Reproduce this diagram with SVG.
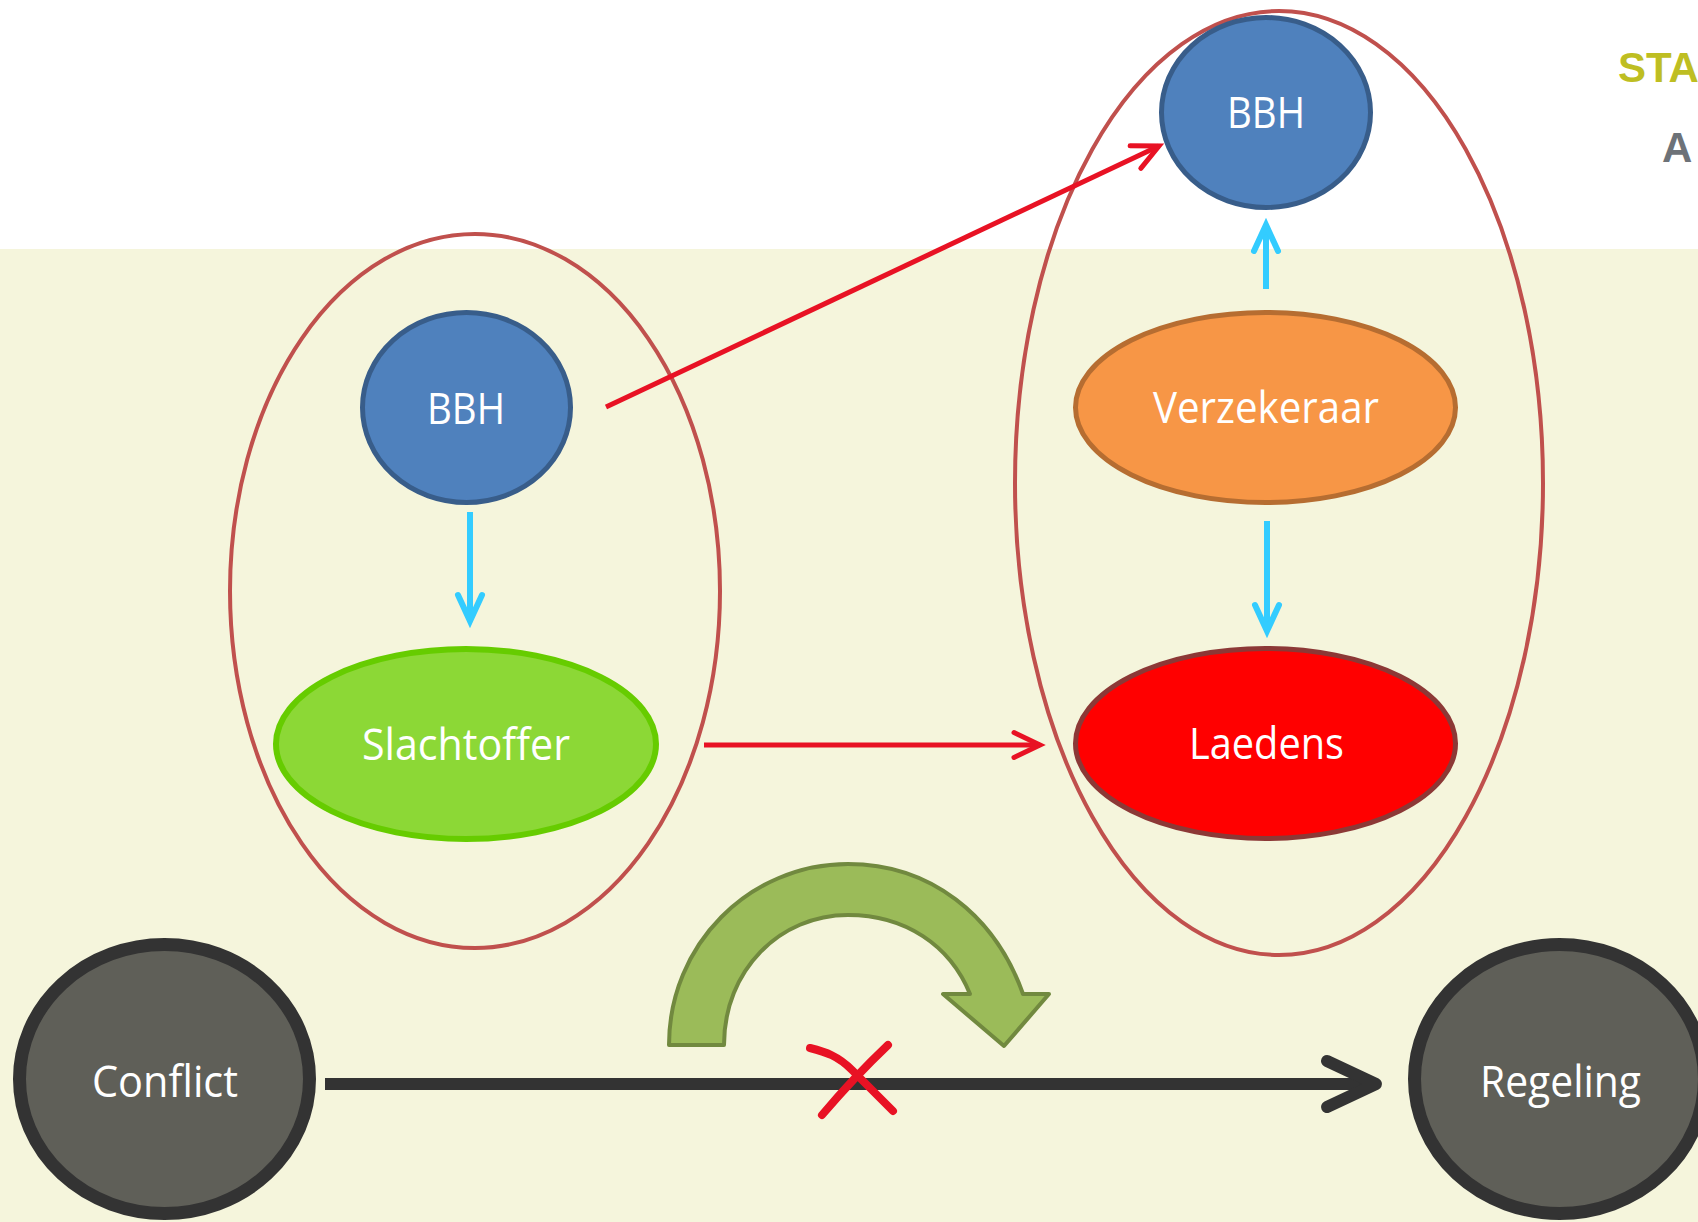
<svg xmlns="http://www.w3.org/2000/svg" width="1698" height="1222" viewBox="0 0 1698 1222">
<style>
.lbl{font-family:"Open Sans","Noto Sans","Liberation Sans",sans-serif;fill:#FFFFFF;font-size:43px;text-anchor:middle}
.group{fill:none;stroke:#C0504D;stroke-width:4}
.bbh{fill:#4F81BD;stroke:#385D8A;stroke-width:5}
.term{fill:#5F5F58;stroke:#333333;stroke-width:13}
.red{fill:none;stroke:#E81224;stroke-width:5}
.cyan{fill:none;stroke:#33CCFF;stroke-width:6}
</style>
<defs>
<marker id="mRed" markerUnits="userSpaceOnUse" orient="auto" refX="0" refY="0" markerWidth="60" markerHeight="60" overflow="visible">
<path d="M-26,-12.5 L0,0 L-26,12.5" fill="none" stroke="#E81224" stroke-width="5" stroke-linecap="round"/>
</marker>
<marker id="mCyan" markerUnits="userSpaceOnUse" orient="auto" refX="0" refY="0" markerWidth="60" markerHeight="60" overflow="visible">
<path d="M-26,-12 L0,0 L-26,12" fill="none" stroke="#33CCFF" stroke-width="6" stroke-linecap="round"/>
</marker>
<marker id="mBlack" markerUnits="userSpaceOnUse" orient="auto" refX="0" refY="0" markerWidth="80" markerHeight="80" overflow="visible">
<path d="M-49,-23 L0,0 L-49,23" fill="none" stroke="#333333" stroke-width="12" stroke-linecap="round" stroke-linejoin="round"/>
</marker>
</defs>
<rect x="0" y="0" width="1698" height="1222" fill="#FFFFFF"/>
<rect x="0" y="249" width="1698" height="973" fill="#F5F5DC"/>
<text x="1618" y="82" font-family="'Liberation Sans',Arial,sans-serif" font-weight="bold" font-size="42" fill="#BEBE22">STA</text>
<text x="1662" y="162" font-family="'Liberation Sans',Arial,sans-serif" font-weight="bold" font-size="42" fill="#6D7278">A</text>

<g id="group-left"><ellipse class="group" cx="475" cy="591" rx="245" ry="357"/></g>
<g id="group-right"><ellipse class="group" cx="1279" cy="483" rx="264" ry="472"/></g>

<g id="bbh-left">
<ellipse class="bbh" cx="466.5" cy="407.5" rx="104" ry="95"/>
<text class="lbl" x="466" y="424" textLength="78" lengthAdjust="spacingAndGlyphs">BBH</text>
</g>
<g id="slachtoffer">
<ellipse cx="466" cy="744" rx="190" ry="95" fill="#8CD836" stroke="#66CC00" stroke-width="6"/>
<text class="lbl" x="466" y="760" textLength="208" lengthAdjust="spacingAndGlyphs">Slachtoffer</text>
</g>
<g id="bbh-right">
<ellipse class="bbh" cx="1266" cy="112.5" rx="104.5" ry="95"/>
<text class="lbl" x="1266" y="128" textLength="78" lengthAdjust="spacingAndGlyphs">BBH</text>
</g>
<g id="verzekeraar">
<ellipse cx="1265.5" cy="407.5" rx="190" ry="95" fill="#F79646" stroke="#B66D31" stroke-width="5"/>
<text class="lbl" x="1266" y="423" textLength="226" lengthAdjust="spacingAndGlyphs">Verzekeraar</text>
</g>
<g id="laedens">
<ellipse cx="1265.5" cy="743.5" rx="190" ry="95" fill="#FF0000" stroke="#8C3836" stroke-width="5"/>
<text class="lbl" x="1266.5" y="759" textLength="155" lengthAdjust="spacingAndGlyphs">Laedens</text>
</g>
<g id="conflict">
<ellipse class="term" cx="164.5" cy="1079" rx="145" ry="134.5"/>
<text class="lbl" x="165" y="1097" textLength="146" lengthAdjust="spacingAndGlyphs">Conflict</text>
</g>
<g id="regeling">
<ellipse class="term" cx="1559.5" cy="1079" rx="145" ry="134.5"/>
<text class="lbl" x="1560.5" y="1097" textLength="161" lengthAdjust="spacingAndGlyphs">Regeling</text>
</g>

<g id="connectors">
<line class="red" x1="606" y1="407" x2="1159" y2="146" marker-end="url(#mRed)"/>
<line class="red" x1="704" y1="745" x2="1040" y2="745" marker-end="url(#mRed)"/>
<line class="cyan" x1="470" y1="512" x2="470" y2="621" marker-end="url(#mCyan)"/>
<line class="cyan" x1="1266" y1="289" x2="1266" y2="225" marker-end="url(#mCyan)"/>
<line class="cyan" x1="1267" y1="521" x2="1267" y2="631" marker-end="url(#mCyan)"/>
<line x1="325" y1="1084" x2="1376" y2="1084" stroke="#333333" stroke-width="12" marker-end="url(#mBlack)"/>
</g>

<g id="curved-arrow">
<path d="M669,1045 C669,945 749,864 848,864 C930,864 995,915 1023,994 L1049,994 L1004,1046 L943,994 L970,994 C950,945 905,915 848,915 C780,915 724,970 724,1045 Z" fill="#9BBB59" stroke="#71893F" stroke-width="4" stroke-linejoin="round"/>
</g>
<g id="cross" fill="none" stroke="#E81224" stroke-width="8" stroke-linecap="round">
<path d="M810,1048 C826,1052 838,1056 852,1070 L893,1111"/>
<path d="M888,1045 C868,1064 850,1082 822,1115"/>
</g>
</svg>
